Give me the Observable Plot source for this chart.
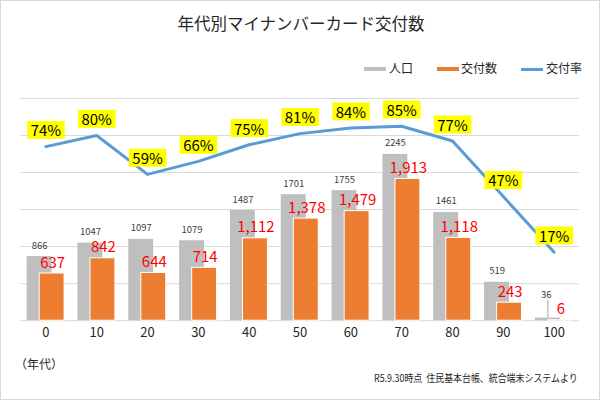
<!DOCTYPE html>
<html>
<head>
<meta charset="utf-8">
<script src="https://cdn.jsdelivr.net/npm/d3@7"></script>
<script src="https://cdn.jsdelivr.net/npm/@observablehq/plot@0.6"></script>
<style>
  body { margin: 0; background: #fff; }
  #wrap { position: relative; width: 600px; height: 400px; box-sizing: border-box; border: 1px solid #d9d9d9; font-family: "Noto Sans CJK JP", "Noto Sans", sans-serif; overflow: hidden; }
  .abs { position: absolute; white-space: nowrap; }
  #title { left: 0; width: 600px; top: 10px; text-align: center; font-size: 16.5px; color: #262626; }
  .sw { position: absolute; height: 4px; width: 22px; }
  .lg { position: absolute; font-size: 12px; color: #262626; top: 58px; }
  #chart { position: absolute; left: 0; top: 80px; }
  #unit { left: 14px; top: 354px; font-size: 12px; color: #262626; }
  #src { left: 373px; top: 369px; font-size: 10.5px; color: #262626; transform: scaleX(0.85); transform-origin: left center; }
</style>
</head>
<body>
<div id="wrap">
  <div id="title" class="abs">年代別マイナンバーカード交付数</div>
  <div class="sw" style="left:363px;top:66px;background:#bfbfbf"></div>
  <div class="lg" style="left:388px">人口</div>
  <div class="sw" style="left:436px;top:66px;background:#ed7d31"></div>
  <div class="lg" style="left:460px">交付数</div>
  <div class="sw" style="left:520px;top:66.5px;height:3px;background:#5b9bd5"></div>
  <div class="lg" style="left:545px">交付率</div>
  <div id="chart"></div>
  <div id="unit" class="abs">（年代）</div>
  <div id="src" class="abs">R5.9.30時点&nbsp; 住民基本台帳、統合端末システムより</div>
</div>
<script>
const decades = ["0","10","20","30","40","50","60","70","80","90","100"];
const population = [866, 1047, 1097, 1079, 1487, 1701, 1755, 2245, 1461, 519, 36];
const issued = [637, 842, 644, 714, 1112, 1378, 1479, 1913, 1118, 243, 6];
const rate = [74, 80, 59, 66, 75, 81, 84, 85, 77, 47, 17];
const gridTicks = [0, 500, 1000, 1500, 2000, 2500, 3000];

// secondary axis: -20%..100% mapped onto 0..3000
const rateToY = r => (r + 20) / 120 * 3000;

const data = decades.map((d, i) => ({decade: d, pop: population[i], iss: issued[i], rate: rate[i]}));
const fmt = d3.format(",");

const plot = Plot.plot({
  width: 600,
  height: 270,
  marginTop: 17,
  marginBottom: 30,
  marginLeft: 19,
  marginRight: 20,
  style: {fontFamily: '"Noto Sans CJK JP", "Noto Sans", sans-serif', fontSize: "13px", color: "#262626", background: "transparent"},
  x: {domain: decades, padding: 0, label: null, tickSize: 0, tickPadding: 7},
  y: {domain: [0, 3000], axis: null},
  marks: [
    Plot.gridY(gridTicks, {stroke: "#d9d9d9", strokeOpacity: 1, strokeWidth: 1}),
    Plot.barY(data, {x: "decade", y: "pop", fill: "#bfbfbf", insetLeft: 6.7, insetRight: 19.3}),
    Plot.barY(data, {x: "decade", y: "iss", fill: "#ed7d31", stroke: "#fff", strokeWidth: 1, insetLeft: 19.3, insetRight: 6.7}),
    Plot.text(data.filter(d => d.pop >= 100), {x: "decade", y: "pop", text: d => String(d.pop), dx: -6.3, dy: -8, lineAnchor: "bottom", fontSize: 9.5, fill: "#404040"}),
    Plot.ruleX(data.filter(d => d.pop < 100), {x: "decade", y1: "pop", y2: d => d.pop + 240, dx: -6.3, stroke: "#a6a6a6", strokeWidth: 1}),
    Plot.text(data.filter(d => d.pop < 100), {x: "decade", y: d => d.pop + 240, text: d => String(d.pop), dx: -8, dy: -2, lineAnchor: "bottom", fontSize: 9.5, fill: "#404040"}),
    Plot.text(data, {x: "decade", y: "iss", text: d => fmt(d.iss), dx: 6.8, dy: -6, lineAnchor: "bottom", fontSize: 15, fill: "#ff0000"}),
    Plot.line(data, {x: "decade", y: d => rateToY(d.rate), stroke: "#5b9bd5", strokeWidth: 3}),
    Plot.text(data, {x: "decade", y: d => rateToY(d.rate), text: d => d.rate + "%", dy: -15, lineAnchor: "middle", fontSize: 15, fill: "#000", className: "rate-label"})
  ]
});

document.getElementById("chart").appendChild(plot);

// yellow label boxes behind rate labels
d3.select(plot).selectAll("g.rate-label text").each(function() {
  const b = this.getBBox();
  const cy = b.y + b.height / 2;
  const rect = document.createElementNS("http://www.w3.org/2000/svg", "rect");
  rect.setAttribute("x", b.x - 3.5);
  rect.setAttribute("y", cy - 9);
  rect.setAttribute("width", b.width + 7);
  rect.setAttribute("height", 18);
  rect.setAttribute("fill", "#ffff00");
  const tr = this.getAttribute("transform");
  if (tr) rect.setAttribute("transform", tr);
  this.parentNode.insertBefore(rect, this);
});
</script>
</body>
</html>
